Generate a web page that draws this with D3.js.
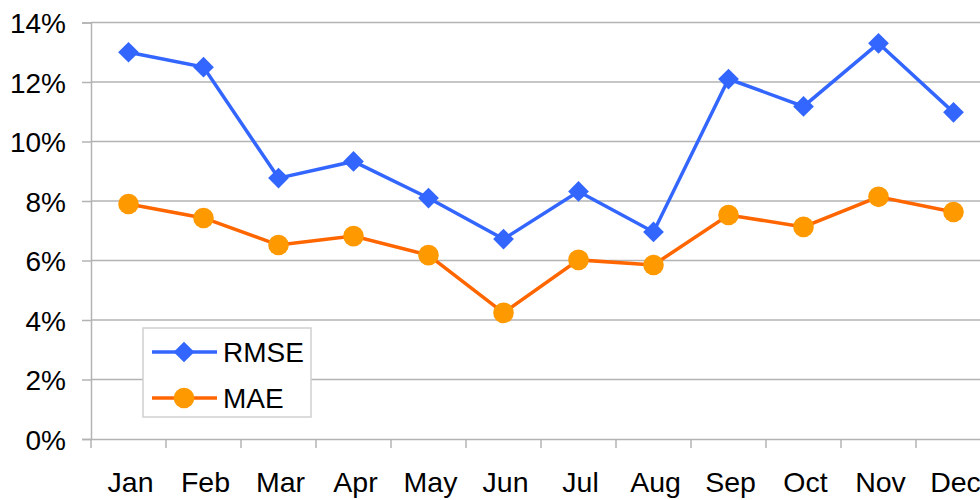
<!DOCTYPE html>
<html>
<head>
<meta charset="utf-8">
<script src="https://cdn.jsdelivr.net/npm/d3@7"></script>
<style>
body{margin:0;background:#fff}
text{font-family:"Liberation Sans",Arial,sans-serif}
</style>
</head>
<body>
<svg></svg>
<script>
var months=["Jan","Feb","Mar","Apr","May","Jun","Jul","Aug","Sep","Oct","Nov","Dec"]
var rmse=[13.0,12.5,8.77,9.33,8.1,6.72,8.32,6.96,12.1,11.18,13.3,10.98]
var mae=[7.9,7.43,6.52,6.82,6.18,4.24,6.02,5.85,7.53,7.13,8.14,7.63]
var yTicks=[0,2,4,6,8,10,12,14]

var svg=d3.select("svg").attr("width",980).attr("height",500)

var x=d3.scaleBand().domain(months).range([91,991])
var y=d3.scaleLinear().domain([0,14]).range([439,22.5])

// grid
svg.append("g").selectAll("line")
  .data(yTicks.slice(1))
  .enter().append("line")
  .attr("x1",91).attr("x2",980)
  .attr("y1",d=>y(d)).attr("y2",d=>y(d))
  .attr("stroke","#b3b3b3").attr("stroke-width",1.5)

var yAxis=svg.append("g").attr("transform","translate(91,0)")
  .call(d3.axisLeft(y).tickValues(yTicks).tickSize(9).tickFormat(d=>d+"%"))
yAxis.select(".domain").attr("stroke","#b3b3b3").attr("stroke-width",1.5)
yAxis.selectAll(".tick line").attr("stroke","#b3b3b3").attr("stroke-width",1.5)
yAxis.selectAll("text").attr("x",-25).attr("dy","0.36em")
  .style("font-size","28px").attr("fill","#000")

var xAxis=svg.append("g").attr("transform","translate(0,439)")
  .call(d3.axisBottom(x).tickSize(9).tickSizeOuter(0))
xAxis.select(".domain").attr("stroke","#b3b3b3").attr("stroke-width",1.5)
xAxis.selectAll(".tick line").attr("stroke","#b3b3b3").attr("stroke-width",1.5)
  .attr("transform","translate("+(-x.bandwidth()/2)+",0)")
xAxis.selectAll("text").attr("y",53).attr("dy",0)
  .attr("dx",2).style("font-size","28.5px").attr("fill","#000")

var cx=d=>x(d)+x.bandwidth()/2
var line=d3.line().x((d,i)=>cx(months[i])).y(d=>y(d))

svg.append("path").datum(mae).attr("d",line)
  .attr("fill","none").attr("stroke","#ff6600").attr("stroke-width",3.5)
svg.append("g").selectAll("circle").data(mae).enter().append("circle")
  .attr("cx",(d,i)=>cx(months[i])).attr("cy",d=>y(d)).attr("r",10.3)
  .attr("fill","#ff9900")

svg.append("path").datum(rmse).attr("d",line)
  .attr("fill","none").attr("stroke","#3366ff").attr("stroke-width",3.5)
var diamond=d3.symbol().type(d3.symbolSquare).size(215)
svg.append("g").selectAll("path").data(rmse).enter().append("path")
  .attr("d",diamond)
  .attr("transform",(d,i)=>"translate("+cx(months[i])+","+y(d)+") rotate(45)")
  .attr("fill","#3366ff")

// legend
var leg=svg.append("g")
leg.append("rect").attr("x",143).attr("y",328).attr("width",168).attr("height",89)
  .attr("fill","#fff").attr("stroke","#d0d0d0").attr("stroke-width",1.5)
var items=[{name:"RMSE",line:"#3366ff",fill:"#3366ff",shape:"d"},{name:"MAE",line:"#ff6600",fill:"#ff9900",shape:"c"}]
items.forEach((it,i)=>{
  var ly=352+i*46
  leg.append("line").attr("x1",152).attr("x2",217).attr("y1",ly).attr("y2",ly)
    .attr("stroke",it.line).attr("stroke-width",3.5)
  if(it.shape=="d"){
    leg.append("path").attr("d",diamond)
      .attr("transform","translate(184,"+ly+") rotate(45)").attr("fill",it.fill)
  }else{
    leg.append("circle").attr("cx",184).attr("cy",ly).attr("r",10.3).attr("fill",it.fill)
  }
  leg.append("text").text(it.name).attr("x",223).attr("y",ly+10)
    .style("font-size","28px").attr("fill","#000")
})
</script>
</body>
</html>
